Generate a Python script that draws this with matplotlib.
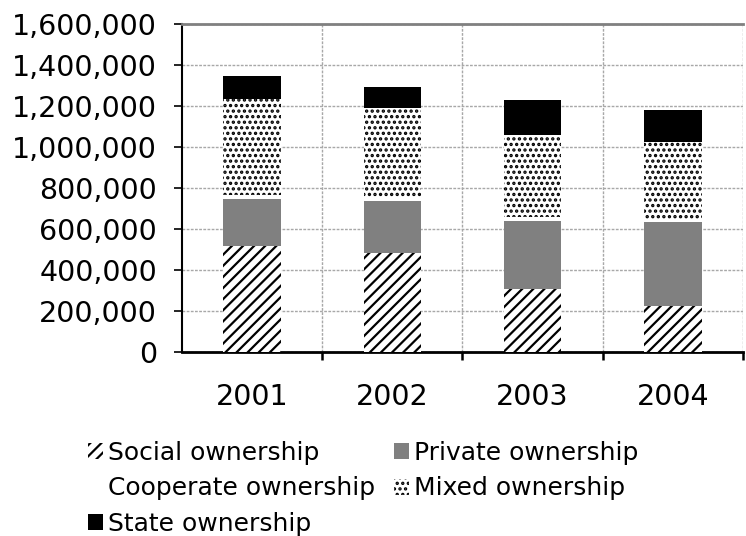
import numpy as np
import matplotlib
matplotlib.use("Agg")
import matplotlib.pyplot as plt
from matplotlib.ticker import FuncFormatter, FixedLocator

years = ["2001", "2002", "2003", "2004"]
social = [516000, 484000, 305000, 225000]
private = [229000, 252000, 333000, 408000]
cooperate = [20000, 18000, 20000, 10000]
mixed = [469000, 434000, 400000, 381000]
state = [112000, 104000, 171000, 156000]

series = [
    ("Social ownership", social, dict(facecolor="white", hatch="///")),
    ("Private ownership", private, dict(facecolor="#808080")),
    ("Cooperate ownership", cooperate, dict(facecolor="white")),
    ("Mixed ownership", mixed, dict(facecolor="white", hatch="...")),
    ("State ownership", state, dict(facecolor="black")),
]

plt.rcParams["font.family"] = "DejaVu Sans"
plt.rcParams["hatch.linewidth"] = 1.6

fig = plt.figure(figsize=(7.46, 5.36), dpi=100)
ax = fig.add_axes([182 / 746, 184 / 536, 561 / 746, 328 / 536])

x = np.arange(len(years))
bottom = np.zeros(len(years))
handles = {}
for name, vals, style in series:
    bars = ax.bar(x, vals, width=0.41, bottom=bottom, edgecolor="black",
                  linewidth=0, label=name, zorder=3, **style)
    handles[name] = bars
    bottom += np.array(vals)

ax.set_xlim(-0.5, 3.5)
ax.set_ylim(0, 1600000)
ax.set_yticks(np.arange(0, 1600001, 200000))
ax.yaxis.set_major_formatter(FuncFormatter(lambda v, p: f"{int(v):,}"))

ax.set_xticks(x)
ax.set_xticklabels(years)
ax.xaxis.set_minor_locator(FixedLocator([0.5, 1.5, 2.5, 3.5]))
ax.tick_params(axis="x", which="major", length=0, pad=22, labelsize=20.5)
ax.tick_params(axis="x", which="minor", length=6, width=1.8, direction="out")
ax.tick_params(axis="y", length=6, width=1.2, pad=12, labelsize=20.5)

ax.grid(axis="y", which="major", color="#a8a8a8", linestyle=(0, (2, 1)), lw=1, zorder=0)
ax.grid(axis="x", which="minor", color="#a8a8a8", linestyle=(0, (2, 1)), lw=1, zorder=0)

ax.spines["right"].set_visible(False)
ax.spines["top"].set_color("#808080")
ax.spines["top"].set_linewidth(2)
ax.spines["left"].set_linewidth(1.5)
ax.spines["bottom"].set_linewidth(2)

# two columns filled column-wise so rows read left to right
order = ["Social ownership", "Cooperate ownership", "State ownership",
         "Private ownership", "Mixed ownership"]
leg = fig.legend([handles[n] for n in order], order, loc="upper left",
                 bbox_to_anchor=(88 / 746, 1 - 441 / 536), ncol=2,
                 frameon=False, fontsize=18, handlelength=0.6,
                 handleheight=0.6, handletextpad=0.2, labelspacing=0.46,
                 columnspacing=0.75, borderpad=0, borderaxespad=0)

fig.savefig("out.png", dpi=100)
